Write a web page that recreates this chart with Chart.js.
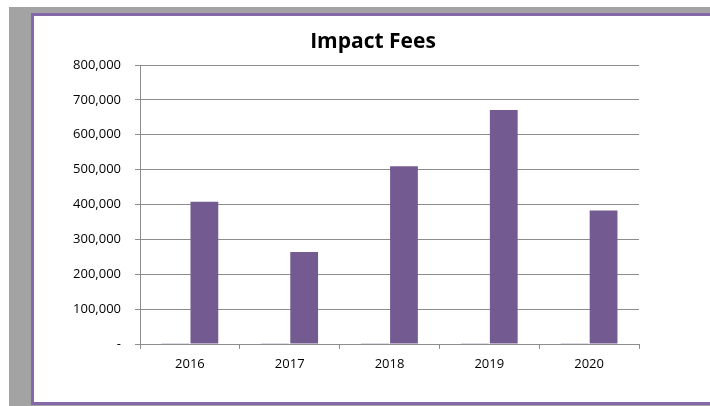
<!DOCTYPE html>
<html>
<head>
<meta charset="utf-8">
<script src="https://cdn.jsdelivr.net/npm/chart.js@4"></script>
<style>
  body { margin: 0; background: #fff; }
  #wrap { position: relative; width: 710px; height: 406px; overflow: hidden; }
  #gray { position: absolute; left: 9px; top: 7px; width: 701px; height: 399px; background: #a3a3a3; }
  #card { position: absolute; left: 31px; top: 13px; width: 720px; height: 392px; box-sizing: border-box;
          border: 3px solid #8568aa; background: #fff; }
  #chart { position: absolute; left: 0; top: 0; }
</style>
</head>
<body>
<div id="wrap">
  <div id="gray"></div>
  <div id="card"></div>
  <canvas id="chart" width="710" height="406"></canvas>
</div>
<script>
  const years = ["2016", "2017", "2018", "2019", "2020"];
  const smallSeries = [2500, 2500, 2500, 2500, 2500];
  const impactFees = [408000, 264000, 510000, 671000, 383000];
  const yTicks = [0, 100000, 200000, 300000, 400000, 500000, 600000, 700000, 800000];
  const chartTitle = "Impact Fees";

  const tickFont = { family: "'Open Sans', sans-serif", size: 13 };

  // title sits over the whole card, not over the plot, so draw it by hand
  const cardTitle = {
    id: "cardTitle",
    afterDraw(chart) {
      const ctx = chart.ctx;
      ctx.save();
      ctx.font = "bold 21px 'Open Sans', sans-serif";
      ctx.fillStyle = "#000";
      ctx.textAlign = "center";
      ctx.textBaseline = "alphabetic";
      ctx.fillText(chartTitle, 373, 48);
      ctx.restore();
    }
  };

  new Chart(document.getElementById("chart"), {
    type: "bar",
    data: {
      labels: years,
      datasets: [
        {
          label: "Other",
          data: smallSeries,
          backgroundColor: "#a898c2",
          categoryPercentage: 0.58,
          barPercentage: 0.96
        },
        {
          label: "Impact Fees",
          data: impactFees,
          backgroundColor: "#735b91",
          categoryPercentage: 0.58,
          barPercentage: 0.96
        }
      ]
    },
    plugins: [cardTitle],
    options: {
      responsive: false,
      animation: false,
      layout: { padding: { top: 65, left: 50, right: 71, bottom: 22 } },
      plugins: {
        legend: { display: false },
        tooltip: { enabled: false },
        title: { display: false }
      },
      scales: {
        x: {
          grid: { display: true, drawOnChartArea: false, color: "#8c8c8c", tickLength: 5 },
          border: { color: "#8c8c8c" },
          ticks: { color: "#000", font: tickFont, padding: 7, maxRotation: 0 },
          afterFit: s => { s.height = 40; }
        },
        y: {
          min: 0,
          max: 800000,
          afterBuildTicks: s => { s.ticks = yTicks.map(v => ({ value: v })); },
          grid: { color: "#8c8c8c", tickLength: 5 },
          border: { color: "#8c8c8c" },
          ticks: {
            color: "#000",
            font: tickFont,
            padding: 14,
            callback: v => v === 0 ? "-" : v.toLocaleString("en-US")
          },
          afterFit: s => { s.width = 90; }
        }
      }
    }
  });
</script>
</body>
</html>
